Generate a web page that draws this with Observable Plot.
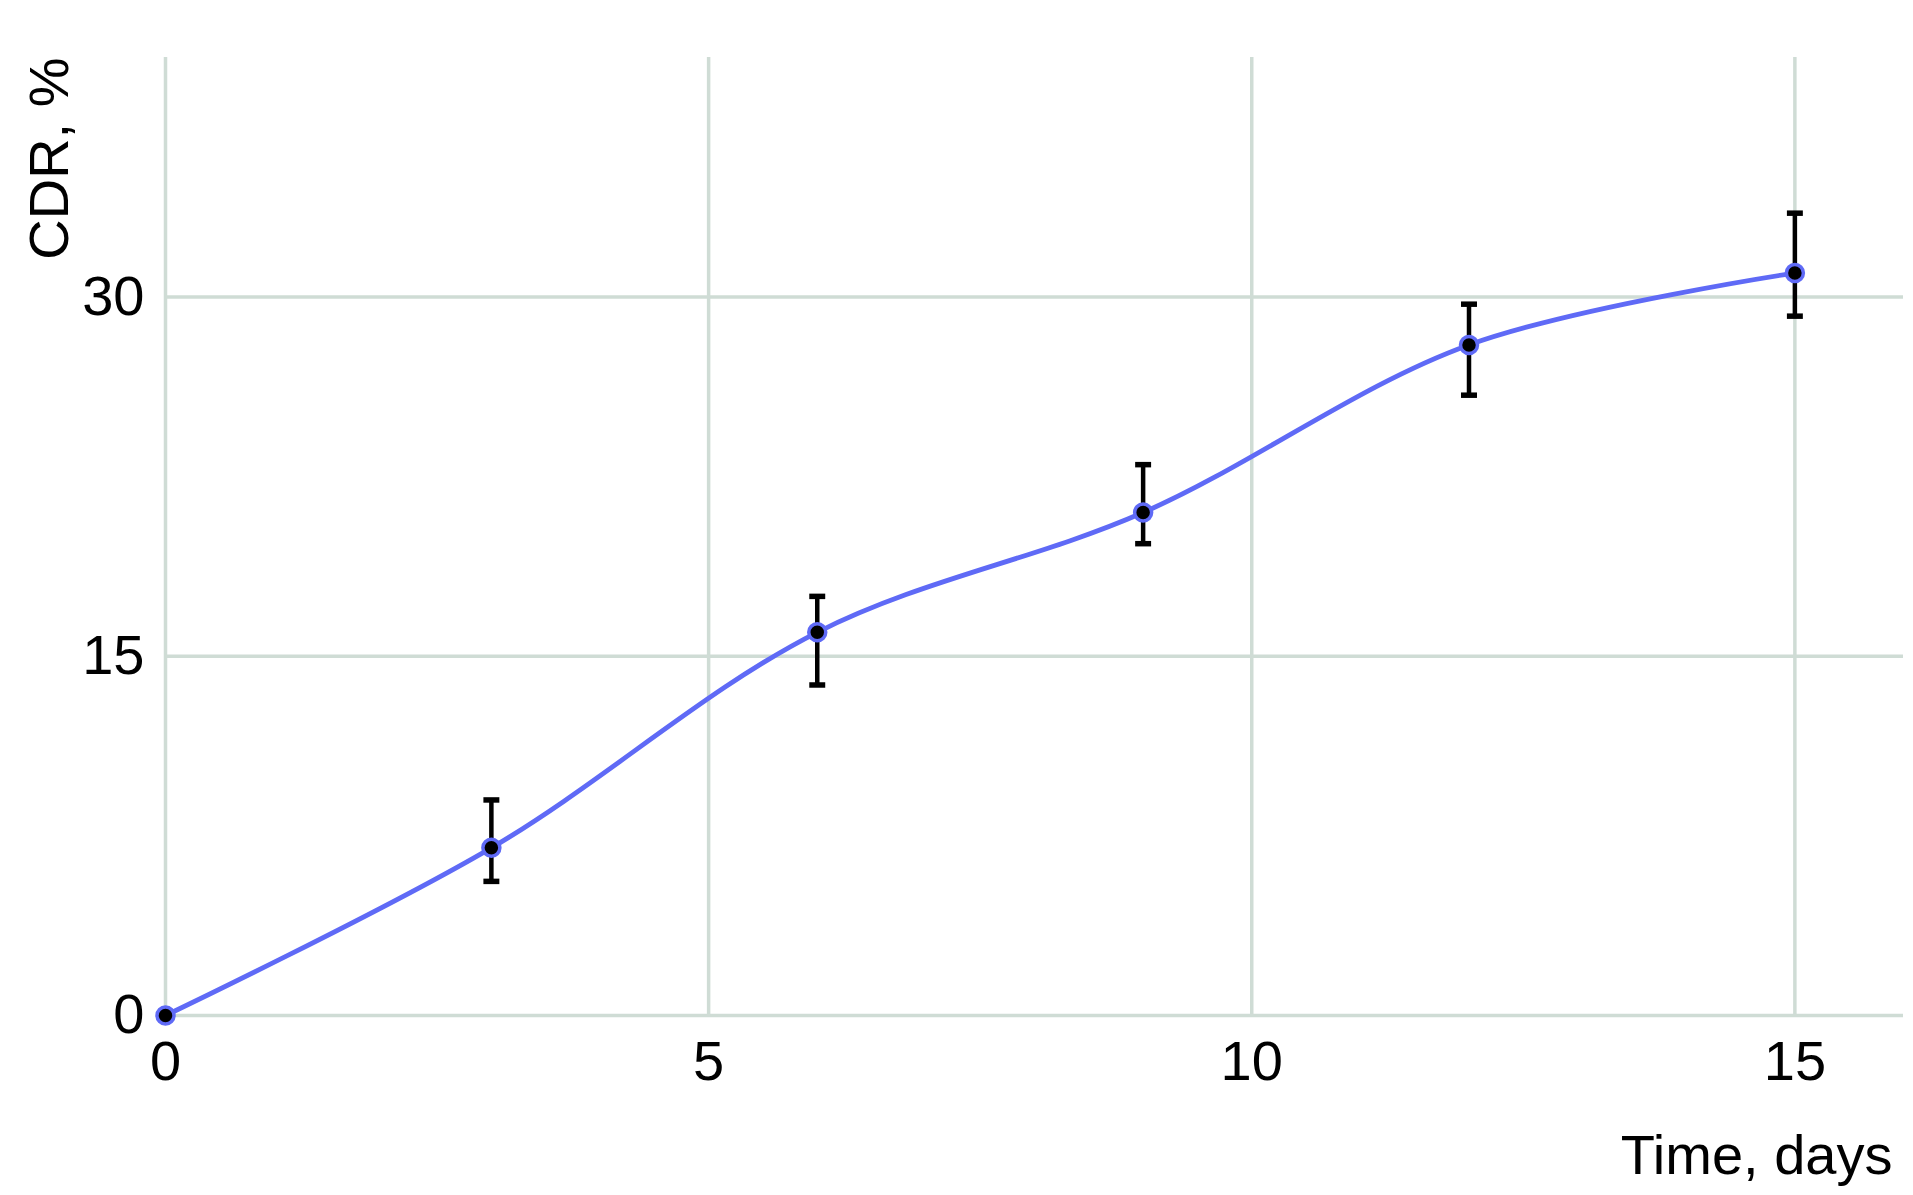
<!DOCTYPE html>
<html>
<head>
<meta charset="utf-8">
<script src="https://cdn.jsdelivr.net/npm/d3@7"></script>
<script src="https://cdn.jsdelivr.net/npm/@observablehq/plot@0.6"></script>
<style>
  html, body { margin: 0; padding: 0; background: #fff; }
  #chart svg { display: block; }
</style>
</head>
<body>
<div id="chart"></div>
<script>
// Data
const days = [0, 3, 6, 9, 12, 15];
const cdr = [0, 7, 16, 21, 28, 31];
const errLow = [null, 5.6, 13.8, 19.7, 25.9, 29.2];
const errHigh = [null, 9.0, 17.5, 23.0, 29.7, 33.5];
const xTicks = [0, 5, 10, 15];
const yTicks = [0, 15, 30];
const xLabel = "Time, days";
const yLabel = "CDR, %";

const points = days.map((d, i) => ({day: d, cdr: cdr[i], lo: errLow[i], hi: errHigh[i]}));
const bars = points.filter(p => p.lo != null);

const lineColor = "#5f6af6";
const gridColor = "#cfdcd5";
const font = "'Liberation Sans', Arial, Helvetica, sans-serif";

const capSymbol = {
  draw(context, size) {
    const w = Math.sqrt(size) / 2;
    context.moveTo(-w, 0);
    context.lineTo(w, 0);
  }
};

const chart = Plot.plot({
  width: 1913,
  height: 1195,
  marginLeft: 165,
  marginRight: 10,
  marginTop: 57,
  marginBottom: 180,
  style: {fontFamily: font, background: "#fff", color: "#000"},
  x: {domain: [0, 16]},
  y: {domain: [0, 40]},
  marks: [
    Plot.gridX(xTicks, {stroke: gridColor, strokeOpacity: 1, strokeWidth: 3.5}),
    Plot.gridY(yTicks, {stroke: gridColor, strokeOpacity: 1, strokeWidth: 3.5}),
    Plot.axisX(xTicks, {tickSize: 0, tickPadding: 25, fontSize: 56, label: null, fill: "#000"}),
    Plot.axisY(yTicks, {tickSize: 0, tickPadding: 21, fontSize: 56, label: null, fill: "#000"}),
    Plot.line(points, {x: "day", y: "cdr", curve: "catmull-rom", stroke: lineColor, strokeWidth: 4.8}),
    Plot.ruleX(bars, {x: "day", y1: "lo", y2: "hi", stroke: "#000", strokeWidth: 4.5}),
    Plot.dot(bars, {x: "day", y: "lo", symbol: capSymbol, r: 9, stroke: "#000", strokeWidth: 5.5, strokeLinecap: "butt"}),
    Plot.dot(bars, {x: "day", y: "hi", symbol: capSymbol, r: 9, stroke: "#000", strokeWidth: 5.5, strokeLinecap: "butt"}),
    Plot.dot(points, {x: "day", y: "cdr", r: 8.5, fill: "#000", stroke: lineColor, strokeWidth: 3.5}),
    Plot.text([yLabel], {frameAnchor: "top-left", text: d => d, rotate: -90, textAnchor: "end", lineAnchor: "bottom", dx: -98, dy: 0, fontSize: 56, fill: "#000"}),
    Plot.text([xLabel], {frameAnchor: "bottom-right", text: d => d, textAnchor: "end", lineAnchor: "bottom", dx: -11, dy: 158, fontSize: 56, fill: "#000"})
  ]
});
document.getElementById("chart").appendChild(chart);
</script>
</body>
</html>
